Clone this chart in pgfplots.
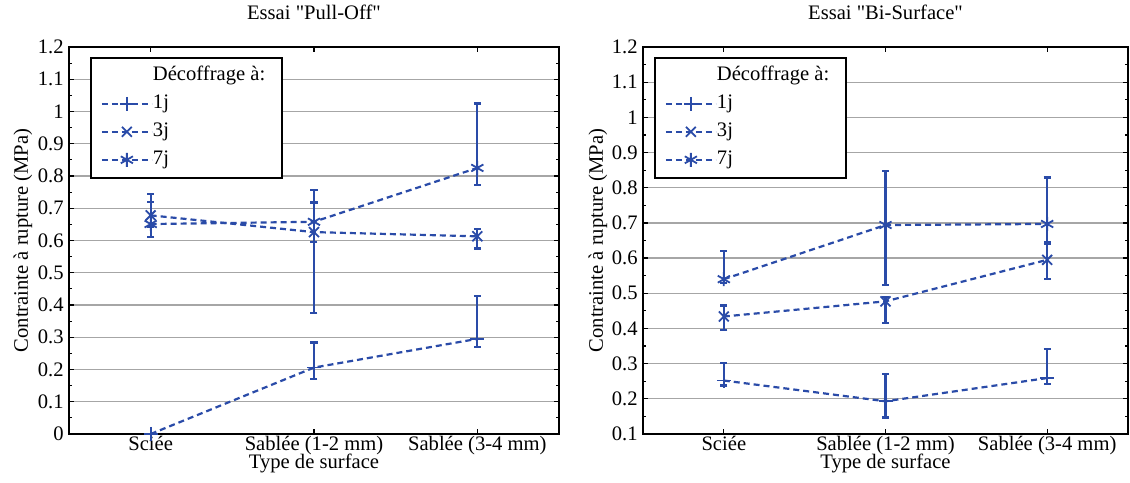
\documentclass[border=0pt]{standalone}
\usepackage{fontspec}
\setmainfont{Liberation Serif}
\usepackage{pgfplots}
\pgfplotsset{compat=1.18}
\definecolor{mblue}{RGB}{42,75,168}
\newcommand{\fs}{\fontsize{10.3bp}{12bp}\selectfont}
\pgfplotsset{
  myax/.style={
    scale only axis, height=193.5bp,
    xmin=0.5, xmax=3.5, xtick={1,2,3},
    xticklabels={Sciée,Sablée (1-2 mm),Sablée (3-4 mm)},
    minor y tick num=1,
    tick align=inside,
    major tick length=2.5bp, minor tick length=1.5bp,
    every tick/.style={black, line width=0.6bp},
    axis line style={line width=0.75bp},
    ymajorgrids, major grid style={color=black!35, line width=0.6bp},
    /pgf/number format/.cd, fixed, precision=1, assume math mode=true, /pgfplots/.cd,
    tick label style={font=\fs},
    label style={font=\fs},
    title style={font=\fs, at={(0.5,1)}, anchor=base, yshift=7.75bp},
    xticklabel style={anchor=base, yshift=-8bp},
    yticklabel style={anchor=east, inner sep=0pt, xshift=-2.5bp},
    xlabel style={at={(0.5,0)}, anchor=base, yshift=-17bp},
    xlabel={Type de surface},
    ylabel={Contrainte à rupture (MPa)},
    legend style={font=\fs, anchor=north west, draw=black, line width=0.75bp, fill=white,
      inner xsep=5bp, inner ysep=4bp, row sep=4bp,
      nodes={inner sep=0pt, text height=7.5bp, text depth=2.5bp, anchor=west},
      /tikz/column 2/.style={column sep=0pt}},
    /tikz/every even column/.style={column sep=3.5bp},
    legend cell align=left,
    legend image code/.code={\draw[mark repeat=2,mark phase=2,#1] plot coordinates {(0bp,0bp) (12.5bp,0bp) (25bp,0bp)};},
    every axis plot/.append style={color=mblue, line width=1.1bp, dash pattern=on 3bp off 2bp, mark size=3.5bp,
      mark options={solid, line width=0.9bp}},
    error bars/y dir=both, error bars/y explicit,
    error bars/error bar style={solid, line width=1.1bp},
    error bars/error mark options={rotate=90, mark size=1.75bp, line width=1.1bp, solid},
  }
}
\begin{document}
\begin{tikzpicture}
\path[use as bounding box] (0,0) rectangle (565bp,241.5bp);
\begin{axis}[myax, at={(34.5bp,24.5bp)}, anchor=south west, width=245bp,
  ymin=0, ymax=1.2, ytick={0,0.1,0.2,0.3,0.4,0.5,0.6,0.7,0.8,0.9,1,1.1,1.2},
  title={Essai \textquotedbl Pull-Off\textquotedbl},
  ylabel style={at={(-0.0837,0.5)}, anchor=base},
  legend style={at={(0.0429,0.974)}}]
\addlegendimage{empty legend}
\addlegendentry{Décoffrage à:\hspace*{3.5bp}}
\addplot[mblue, mark=+] coordinates {
 (1,0.0) += (0,0) -= (0,0)
 (2,0.206) += (0,0.078) -= (0,0.036)
 (3,0.295) += (0,0.134) -= (0,0.025)
};
\addlegendentry{1j}
\addplot[mblue, mark=x] coordinates {
 (1,0.678) += (0,0.042) -= (0,0.036)
 (2,0.626) += (0,0.092) -= (0,0.252)
 (3,0.613) += (0,0.022) -= (0,0.038)
};
\addlegendentry{3j}
\addplot[mblue, mark=asterisk] coordinates {
 (1,0.651) += (0,0.094) -= (0,0.041)
 (2,0.658) += (0,0.098) -= (0,0.062)
 (3,0.825) += (0,0.200) -= (0,0.053)
};
\addlegendentry{7j}
\end{axis}
\begin{axis}[myax, at={(321.5bp,24.5bp)}, anchor=south west, width=242.5bp,
  ymin=0.1, ymax=1.2, ytick={0.1,0.2,0.3,0.4,0.5,0.6,0.7,0.8,0.9,1,1.1,1.2},
  title={Essai \textquotedbl Bi-Surface\textquotedbl},
  ylabel style={at={(-0.0825,0.5)}, anchor=base},
  legend style={at={(0.0227,0.974)}}]
\addlegendimage{empty legend}
\addlegendentry{Décoffrage à:\hspace*{3.5bp}}
\addplot[mblue, mark=+] coordinates {
 (1,0.252) += (0,0.050) -= (0,0.014)
 (2,0.193) += (0,0.077) -= (0,0.046)
 (3,0.259) += (0,0.083) -= (0,0.017)
};
\addlegendentry{1j}
\addplot[mblue, mark=x] coordinates {
 (1,0.434) += (0,0.031) -= (0,0.038)
 (2,0.477) += (0,0.013) -= (0,0.062)
 (3,0.595) += (0,0.044) -= (0,0.055)
};
\addlegendentry{3j}
\addplot[mblue, mark=asterisk] coordinates {
 (1,0.540) += (0,0.080) -= (0,0.011)
 (2,0.694) += (0,0.153) -= (0,0.170)
 (3,0.697) += (0,0.132) -= (0,0.052)
};
\addlegendentry{7j}
\end{axis}
\end{tikzpicture}
\end{document}
